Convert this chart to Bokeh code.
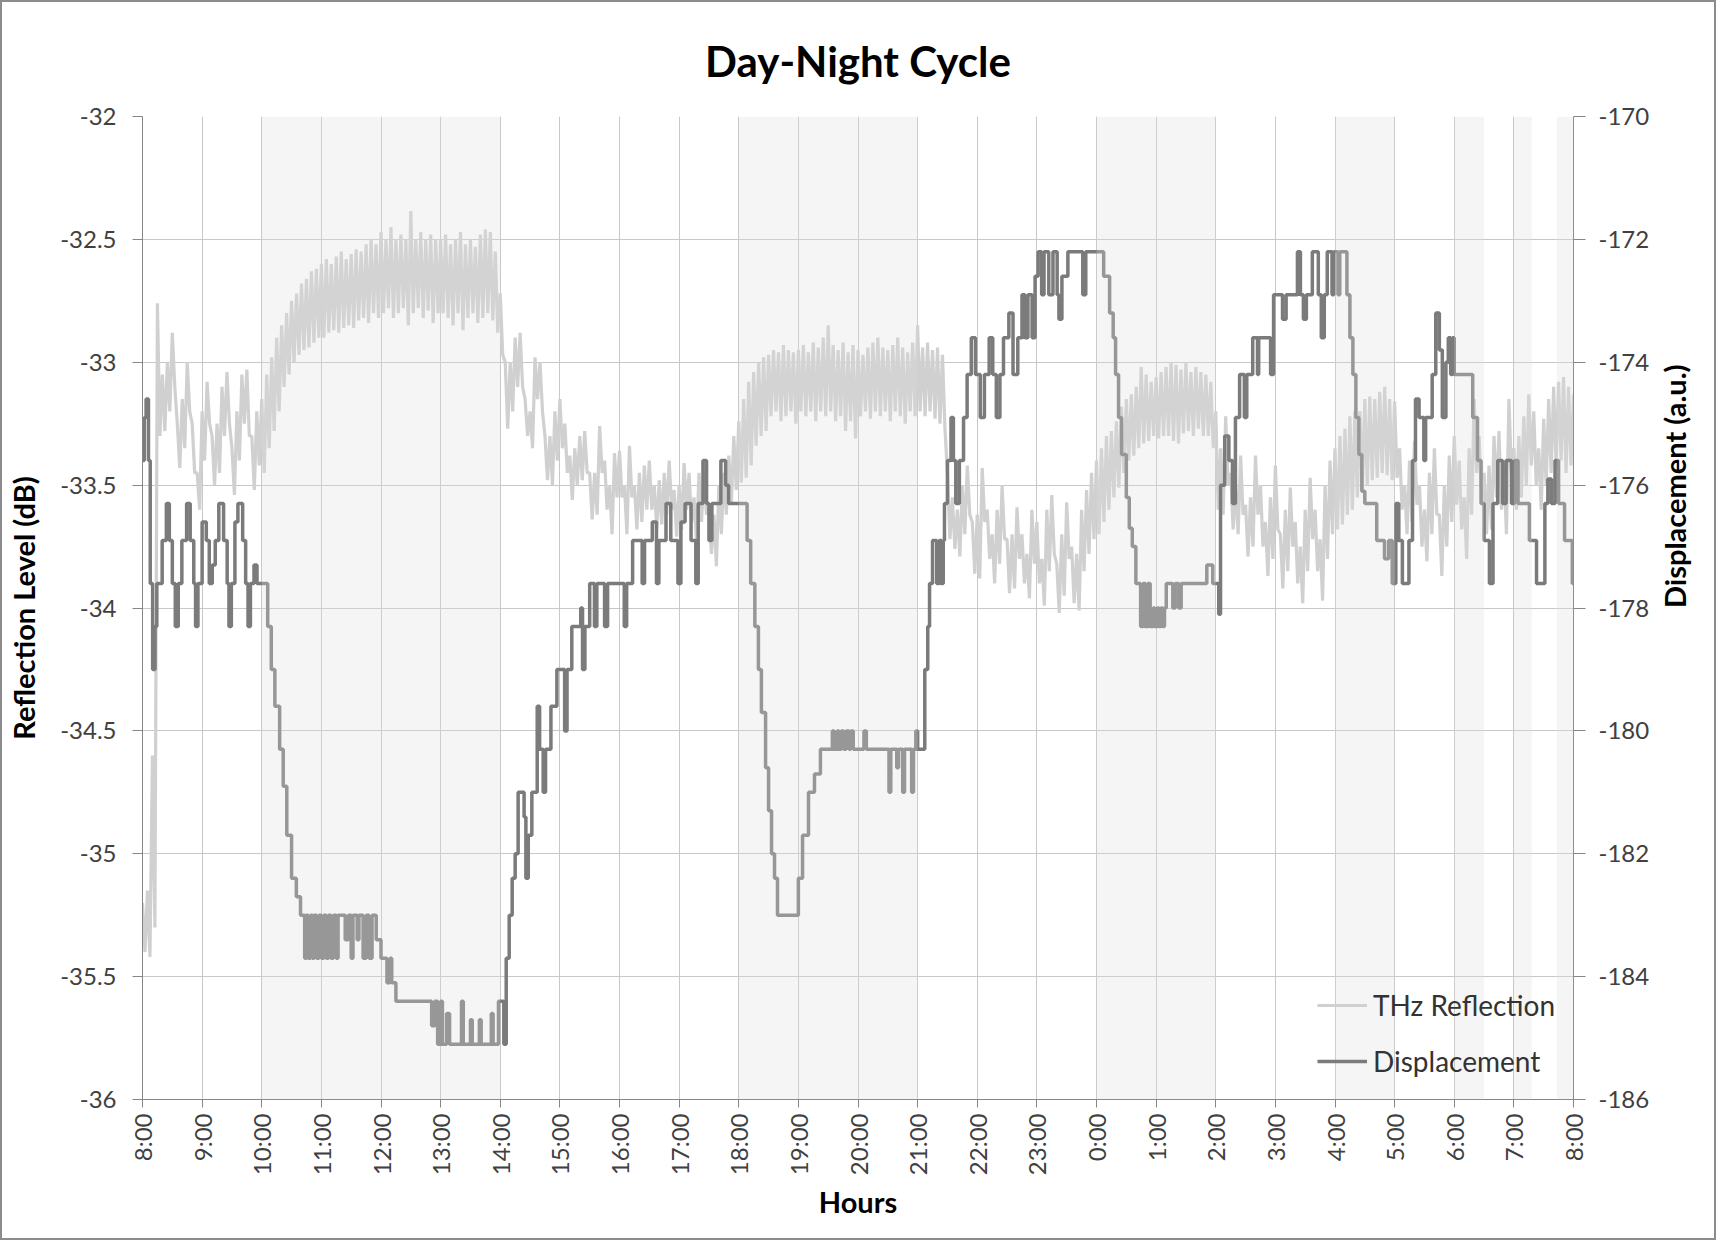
import math
from bokeh.plotting import figure
from bokeh.models import Range1d, LinearAxis, FixedTicker, BoxAnnotation, Legend, LegendItem
from bokeh.embed import file_html
from bokeh.resources import INLINE

TITLE = "Day-Night Cycle"
X_LABEL = "Hours"
Y_LABEL = "Reflection Level (dB)"
Y2_LABEL = "Displacement (a.u.)"
SERIES_NAMES = ["THz Reflection", "Displacement"]

HOUR_TICKS = [8, 9, 10, 11, 12, 13, 14, 15, 16, 17, 18, 19, 20, 21, 22, 23, 24,
              25, 26, 27, 28, 29, 30, 31, 32]
HOUR_LABELS = ["8:00", "9:00", "10:00", "11:00", "12:00", "13:00", "14:00", "15:00",
               "16:00", "17:00", "18:00", "19:00", "20:00", "21:00", "22:00", "23:00",
               "0:00", "1:00", "2:00", "3:00", "4:00", "5:00", "6:00", "7:00", "8:00"]
REFL_TICKS = [-36, -35.5, -35, -34.5, -34, -33.5, -33, -32.5, -32]
REFL_TICK_LABELS = ["-36", "-35.5", "-35", "-34.5", "-34", "-33.5", "-33", "-32.5", "-32"]
DISP_TICKS = [-186, -184, -182, -180, -178, -176, -174, -172, -170]
DISP_TICK_LABELS = ["-186", "-184", "-182", "-180", "-178", "-176", "-174", "-172", "-170"]

# shaded periods (clock hours, 24 = midnight)
BAND_START = [10, 18, 24, 28, 30, 31.0, 31.72]
BAND_END = [14, 21, 26, 29, 30.5, 31.3, 32]

# THz reflection: upper / lower edge of the trace every 5 minutes from 8:00
REFL_START_HOUR = 8.0
REFL_STEP_MIN = 5
REFL_HI = [
    -35.2, -35.15, -34.6, -32.76, -33.05, -33.0, -32.88, -33.25, -33.15, -33.0, -33.25, -33.45,
    -33.2, -33.08, -33.3, -33.25, -33.1, -33.04, -33.35, -33.2, -33.05, -33.03, -33.3, -33.2,
    -33.15, -33.05, -32.98, -32.9, -32.85, -32.8, -32.75, -32.72, -32.68, -32.66, -32.63, -32.62,
    -32.6, -32.58, -32.6, -32.57, -32.55, -32.58, -32.56, -32.54, -32.55, -32.52, -32.5, -32.52,
    -32.47, -32.5, -32.45, -32.5, -32.48, -32.5, -32.385, -32.5, -32.47, -32.5, -32.48, -32.5,
    -32.5, -32.48, -32.52, -32.5, -32.47, -32.52, -32.5, -32.53, -32.48, -32.46, -32.47, -32.55,
    -32.72, -33.0, -33.0, -32.9, -32.88, -33.15, -33.2, -32.98, -33.0, -33.3, -33.3, -33.2,
    -33.15, -33.25, -33.38, -33.35, -33.3, -33.28, -33.45, -33.45, -33.26, -33.4, -33.5, -33.37,
    -33.36, -33.5, -33.34, -33.5, -33.45, -33.42, -33.4, -33.5, -33.48, -33.45, -33.4, -33.52,
    -33.5, -33.41, -33.45, -33.55, -33.45, -33.45, -33.6, -33.62, -33.5, -33.45, -33.38, -33.3,
    -33.24, -33.15, -33.08, -33.04, -33.0, -32.98, -32.97, -32.95, -32.96, -32.93, -32.95, -32.96,
    -32.95, -32.93, -32.96, -32.92, -32.94, -32.9, -32.85, -32.93, -32.95, -32.92, -32.96, -32.93,
    -32.95, -32.97, -32.94, -32.92, -32.9, -32.94, -32.95, -32.93, -32.9, -32.94, -32.96, -32.92,
    -32.85, -32.94, -32.92, -32.95, -32.94, -32.97, -33.45, -33.55, -33.6, -33.5, -33.42, -33.65,
    -33.62, -33.43, -33.6, -33.7, -33.6, -33.5, -33.72, -33.7, -33.59, -33.7, -33.78, -33.6,
    -33.65, -33.8, -33.6, -33.54, -33.82, -33.7, -33.57, -33.75, -33.78, -33.6, -33.52, -33.45,
    -33.4, -33.35, -33.3, -33.28, -33.24, -33.18, -33.15, -33.13, -33.1, -33.02, -33.05, -33.08,
    -33.06, -33.04, -33.02, -33.0, -33.01, -33.03, -33.0, -33.04, -33.02, -33.04, -33.05, -33.08,
    -33.2, -33.35, -33.22, -33.45, -33.5, -33.38, -33.58, -33.55, -33.38, -33.5, -33.65, -33.55,
    -33.42, -33.7, -33.6, -33.51, -33.65, -33.75, -33.6, -33.47, -33.6, -33.72, -33.5, -33.4,
    -33.35, -33.3, -33.27, -33.22, -33.2, -33.2, -33.15, -33.14, -33.15, -33.12, -33.1, -33.15,
    -33.16, -33.35, -33.5, -33.4, -33.32, -33.5, -33.6, -33.45, -33.35, -33.62, -33.5, -33.38,
    -33.3, -33.4, -33.55, -33.35, -33.15, -33.3, -33.45, -33.42, -33.3, -33.28, -33.42, -33.15,
    -33.35, -33.3, -33.22, -33.13, -33.2, -33.35, -33.23, -33.15, -33.1, -33.08, -33.06, -33.1,
    -33.13,
]
REFL_LO = [
    -35.4, -35.42, -35.3, -33.3, -33.28, -33.2, -33.1, -33.43, -33.35, -33.2, -33.45, -33.6,
    -33.4, -33.25, -33.5, -33.45, -33.3, -33.25, -33.54, -33.4, -33.25, -33.3, -33.52, -33.42,
    -33.45, -33.35, -33.28, -33.2, -33.1, -33.05, -33.0, -32.97, -32.95, -32.94, -32.92, -32.9,
    -32.9, -32.88, -32.87, -32.88, -32.86, -32.85, -32.86, -32.83, -32.82, -32.84, -32.8, -32.82,
    -32.8, -32.78, -32.82, -32.8, -32.78, -32.85, -32.8, -32.78, -32.82, -32.79, -32.84, -32.8,
    -32.8, -32.82, -32.85, -32.8, -32.87, -32.82, -32.8, -32.84, -32.82, -32.8, -32.83, -32.88,
    -32.97, -33.27, -33.2, -33.1, -33.1, -33.3, -33.35, -33.15, -33.2, -33.48, -33.5, -33.4,
    -33.35, -33.45, -33.56, -33.5, -33.48, -33.45, -33.64, -33.62, -33.45, -33.6, -33.7, -33.55,
    -33.55, -33.7, -33.55, -33.68, -33.65, -33.6, -33.6, -33.68, -33.66, -33.62, -33.6, -33.71,
    -33.68, -33.6, -33.65, -33.73, -33.65, -33.62, -33.78, -33.83, -33.7, -33.62, -33.58, -33.52,
    -33.49, -33.47, -33.42, -33.34, -33.3, -33.28, -33.22, -33.2, -33.24, -33.22, -33.2, -33.25,
    -33.2, -33.22, -33.2, -33.24, -33.2, -33.22, -33.2, -33.24, -33.22, -33.28, -33.24, -33.31,
    -33.22, -33.2, -33.23, -33.2, -33.22, -33.2, -33.24, -33.2, -33.22, -33.25, -33.2, -33.22,
    -33.2, -33.22, -33.2, -33.23, -33.25, -33.27, -33.72, -33.76, -33.79, -33.7, -33.62, -33.86,
    -33.88, -33.65, -33.8, -33.9, -33.82, -33.72, -33.94, -33.92, -33.8, -33.9, -33.96, -33.82,
    -33.9, -33.99, -33.85, -33.78, -34.02, -33.95, -33.8, -33.98, -34.01, -33.85, -33.78, -33.72,
    -33.7, -33.65, -33.6, -33.55, -33.51, -33.45, -33.4, -33.38, -33.35, -33.33, -33.32, -33.3,
    -33.31, -33.3, -33.3, -33.32, -33.33, -33.29, -33.28, -33.3, -33.27, -33.3, -33.3, -33.35,
    -33.6, -33.62, -33.5, -33.68, -33.7, -33.62, -33.79, -33.75, -33.62, -33.75, -33.87, -33.8,
    -33.68, -33.92, -33.85, -33.75, -33.9, -33.98, -33.85, -33.72, -33.85, -33.97, -33.8, -33.7,
    -33.68, -33.66, -33.62, -33.6, -33.55, -33.52, -33.5, -33.48, -33.47, -33.45, -33.46, -33.48,
    -33.47, -33.6, -33.7, -33.65, -33.58, -33.75, -33.81, -33.7, -33.62, -33.87, -33.75, -33.65,
    -33.58, -33.68, -33.8, -33.62, -33.45, -33.58, -33.7, -33.68, -33.55, -33.6, -33.7, -33.45,
    -33.6, -33.55, -33.5, -33.42, -33.5, -33.6, -33.5, -33.45, -33.42, -33.4, -33.45, -33.42,
    -33.48,
]

# Displacement: step change points (clock hours) and levels (a.u.)
DISP_H = [
    8.00, 8.03, 8.06, 8.10, 8.13, 8.17, 8.21, 8.24, 8.33, 8.40, 8.45, 8.50, 8.55, 8.60, 8.66,
    8.74, 8.80, 8.86, 8.89, 8.93, 9.00, 9.07, 9.12, 9.17, 9.22, 9.28, 9.36, 9.42, 9.45, 9.49,
    9.55, 9.60, 9.68, 9.73, 9.77, 9.81, 9.87, 9.92, 10.10, 10.16, 10.22, 10.30, 10.36, 10.42,
    10.50, 10.58, 10.65, 10.72, 10.75, 10.78, 10.82, 10.85, 10.88, 10.92, 10.96, 11.00, 11.04,
    11.08, 11.12, 11.16, 11.20, 11.25, 11.28, 11.40, 11.45, 11.50, 11.53, 11.60, 11.63, 11.70,
    11.75, 11.80, 11.85, 11.92, 12.00, 12.10, 12.15, 12.18, 12.25, 12.85, 12.90, 12.95, 13.00,
    13.03, 13.10, 13.15, 13.35, 13.38, 13.50, 13.53, 13.65, 13.68, 13.85, 13.88, 13.97, 14.06,
    14.10, 14.15, 14.20, 14.25, 14.30, 14.40, 14.43, 14.47, 14.53, 14.62, 14.66, 14.72, 14.76,
    14.85, 14.95, 15.08, 15.12, 15.20, 15.35, 15.38, 15.42, 15.50, 15.58, 15.62, 15.75, 15.80,
    16.08, 16.12, 16.22, 16.38, 16.42, 16.55, 16.62, 16.66, 16.78, 16.86, 16.98, 17.03, 17.10,
    17.20, 17.28, 17.32, 17.40, 17.46, 17.50, 17.55, 17.70, 17.78, 17.83, 18.14, 18.20, 18.27,
    18.33, 18.38, 18.45, 18.50, 18.55, 18.60, 18.65, 19.00, 19.07, 19.17, 19.27, 19.37, 19.57,
    19.60, 19.65, 19.68, 19.72, 19.76, 19.80, 19.85, 19.88, 19.92, 20.10, 20.14, 20.52, 20.55,
    20.65, 20.68, 20.75, 20.78, 20.90, 20.93, 20.97, 21.00, 21.12, 21.17, 21.20, 21.25, 21.32,
    21.36, 21.40, 21.43, 21.45, 21.50, 21.56, 21.60, 21.64, 21.70, 21.77, 21.83, 21.90, 21.97,
    22.05, 22.12, 22.20, 22.26, 22.32, 22.38, 22.44, 22.53, 22.60, 22.68, 22.75, 22.80, 22.85,
    22.92, 22.97, 23.02, 23.08, 23.12, 23.20, 23.27, 23.34, 23.37, 23.42, 23.52, 23.77, 23.82,
    24.12, 24.22, 24.28, 24.32, 24.37, 24.42, 24.50, 24.55, 24.60, 24.66, 24.74, 24.78, 24.82,
    24.86, 24.90, 24.95, 24.98, 25.02, 25.05, 25.08, 25.11, 25.14, 25.17, 25.28, 25.32, 25.38,
    25.42, 25.85, 25.95, 26.05, 26.08, 26.15, 26.22, 26.28, 26.33, 26.40, 26.48, 26.52, 26.62,
    26.70, 26.72, 26.92, 26.97, 27.12, 27.18, 27.37, 27.42, 27.47, 27.52, 27.62, 27.72, 27.77,
    27.82, 27.87, 27.95, 27.98, 28.05, 28.08, 28.20, 28.25, 28.30, 28.35, 28.40, 28.45, 28.50,
    28.70, 28.83, 28.90, 28.96, 29.02, 29.07, 29.13, 29.24, 29.30, 29.35, 29.41, 29.49, 29.52,
    29.63, 29.69, 29.75, 29.80, 29.86, 29.90, 29.94, 29.97, 30.00, 30.31, 30.39, 30.45, 30.50,
    30.59, 30.65, 30.73, 30.81, 30.87, 30.96, 31.01, 31.07, 31.26, 31.38, 31.52, 31.57, 31.63,
    31.69, 31.75, 31.85, 31.98, 32.00,
]
DISP_V = [
    -175.6, -174.9, -174.6, -175.6, -177.6, -179.0, -178.3, -177.6, -176.9, -176.3, -176.9,
    -177.6, -178.3, -177.6, -176.9, -176.3, -176.9, -177.6, -178.3, -177.6, -176.6, -176.9,
    -177.6, -177.3, -176.9, -176.3, -176.9, -177.6, -178.3, -177.6, -176.6, -176.3, -176.9,
    -177.6, -178.3, -177.6, -177.3, -177.6, -178.3, -179.0, -179.6, -180.3, -180.9, -181.7,
    -182.4, -182.7, -183.0, -183.7, -183.0, -183.7, -183.0, -183.7, -183.0, -183.7, -183.0,
    -183.7, -183.0, -183.7, -183.0, -183.7, -183.0, -183.7, -183.0, -183.4, -183.0, -183.7,
    -183.0, -183.4, -183.0, -183.7, -183.0, -183.7, -183.0, -183.4, -183.7, -184.1, -183.7,
    -184.1, -184.4, -184.8, -184.4, -185.1, -184.4, -185.1, -184.6, -185.1, -184.4, -185.1,
    -184.7, -185.1, -184.7, -185.1, -184.6, -185.1, -184.4, -185.1, -183.7, -183.0, -182.4,
    -182.0, -181.0, -181.4, -182.4, -181.7, -181.0, -179.6, -180.3, -181.0, -180.3, -179.6,
    -179.0, -180.0, -179.0, -178.3, -178.0, -179.0, -178.3, -177.6, -178.3, -177.6, -178.3,
    -177.6, -178.3, -177.6, -176.9, -177.6, -176.9, -176.6, -177.6, -176.9, -176.3, -176.9,
    -177.6, -176.6, -176.3, -176.9, -177.6, -176.3, -175.6, -176.3, -176.9, -176.3, -175.6,
    -176.0, -176.3, -176.9, -177.6, -178.3, -179.0, -179.7, -180.6, -181.3, -182.0, -182.4,
    -183.0, -182.4, -181.7, -181.0, -180.7, -180.3, -180.0, -180.3, -180.0, -180.3, -180.0,
    -180.3, -180.0, -180.3, -180.0, -180.3, -180.0, -180.3, -181.0, -180.3, -180.6, -180.3,
    -181.0, -180.3, -181.0, -180.3, -180.0, -180.3, -179.0, -178.3, -177.6, -176.9, -177.6,
    -176.9, -177.6, -176.9, -176.3, -175.6, -174.9, -175.6, -176.3, -175.6, -174.9, -174.2,
    -173.6, -174.2, -174.9, -174.2, -173.6, -174.2, -174.9, -174.2, -173.6, -173.2, -174.2,
    -173.6, -172.9, -173.6, -172.9, -173.6, -172.6, -172.2, -172.9, -172.2, -172.9, -172.2,
    -172.9, -173.3, -172.6, -172.2, -172.9, -172.2, -172.6, -173.2, -173.6, -174.2, -174.9,
    -175.5, -176.2, -176.7, -177.0, -177.6, -178.3, -177.6, -178.3, -177.6, -178.3, -178.0,
    -178.3, -178.0, -178.3, -178.0, -178.3, -178.0, -177.6, -178.0, -177.6, -178.0, -177.6,
    -177.3, -177.6, -178.1, -176.0, -175.2, -175.6, -176.3, -174.9, -174.2, -174.9, -174.2,
    -173.6, -174.2, -173.6, -174.2, -172.9, -173.3, -172.9, -172.2, -172.9, -173.3, -172.9,
    -172.2, -172.9, -173.6, -172.9, -172.2, -172.9, -172.2, -172.9, -172.2, -172.9, -173.6,
    -174.2, -174.9, -175.5, -176.1, -176.3, -176.9, -177.2, -176.9, -177.6, -176.3, -176.9,
    -177.6, -176.9, -175.6, -174.6, -174.9, -175.6, -174.9, -174.2, -173.2, -173.8, -174.9,
    -174.0, -173.6, -174.2, -173.6, -174.2, -174.9, -175.6, -176.3, -176.9, -177.6, -176.3,
    -175.6, -176.3, -175.6, -176.3, -175.6, -176.3, -176.9, -177.6, -176.3, -175.9, -176.3,
    -175.6, -176.3, -176.9, -177.6, -177.6,
]

REFL_COLOR = "#d0d0d0"
DISP_COLOR = "#7b7b7b"
FONT = "Lato"

# zig-zag through upper and lower edge of the reflection trace
refl_x, refl_y = [], []
step_h = REFL_STEP_MIN / 60.0
for k, (hi, lo) in enumerate(zip(REFL_HI, REFL_LO)):
    t = REFL_START_HOUR + k * step_h
    refl_x.extend([t, t + step_h / 2.0])
    refl_y.extend([hi, lo])
refl_x = refl_x[:-1]
refl_y = refl_y[:-1]

p = figure(width=1716, height=1240, x_range=Range1d(8, 32), y_range=Range1d(-36, -32),
           output_backend="svg", toolbar_location=None, title=TITLE,
           min_border_left=140, min_border_right=145, min_border_top=114, min_border_bottom=143)
p.extra_y_ranges = {"disp": Range1d(-186, -170)}
p.styles = {"border": "2px solid #8c8c8c"}
p.outline_line_color = None
p.background_fill_color = "white"
p.border_fill_color = "white"

p.title.text_font = FONT
p.title.text_font_size = "42px"
p.title.text_font_style = "bold"
p.title.text_color = "black"
p.title.align = "center"
p.title.standoff = 62

r_refl = p.line(refl_x, refl_y, line_color=REFL_COLOR, line_width=3.2)
r_disp = p.step(DISP_H, DISP_V, mode="after", y_range_name="disp",
                line_color=DISP_COLOR, line_width=3.5)

for a, b in zip(BAND_START, BAND_END):
    p.add_layout(BoxAnnotation(left=a, right=b, fill_color="#dcdcdc", fill_alpha=0.29,
                               line_alpha=0))

# axes
xax = p.xaxis[0]
xax.ticker = FixedTicker(ticks=HOUR_TICKS)
xax.major_label_overrides = {t: s for t, s in zip(HOUR_TICKS, HOUR_LABELS)}
xax.major_label_orientation = math.pi / 2
xax.axis_label = X_LABEL
xax.major_tick_out = 8
xax.major_label_standoff = 6
xax.axis_label_standoff = 6

yax = p.yaxis[0]
yax.ticker = FixedTicker(ticks=REFL_TICKS)
yax.major_label_overrides = {t: s for t, s in zip(REFL_TICKS, REFL_TICK_LABELS)}
yax.axis_label = Y_LABEL
yax.major_tick_out = 10
yax.major_label_standoff = 16
yax.axis_label_standoff = 16

rax = LinearAxis(y_range_name="disp", ticker=FixedTicker(ticks=DISP_TICKS),
                 axis_label=Y2_LABEL)
rax.major_label_overrides = {t: s for t, s in zip(DISP_TICKS, DISP_TICK_LABELS)}
rax.major_tick_out = 12
rax.major_label_standoff = 13
rax.axis_label_standoff = 22
p.add_layout(rax, "right")
if "axis_label_orientation" in rax.properties():
    rax.axis_label_orientation = math.pi / 2

for ax in (xax, yax, rax):
    ax.axis_line_color = "#868686"
    ax.axis_line_width = 1
    ax.major_tick_line_color = "#868686"
    ax.minor_tick_line_color = None
    ax.major_tick_in = 0
    ax.major_label_text_font = FONT
    ax.major_label_text_font_size = "24px"
    ax.major_label_text_color = "#404040"
    ax.axis_label_text_font = FONT
    ax.axis_label_text_font_size = "29px"
    ax.axis_label_text_font_style = "bold"
    ax.axis_label_text_color = "black"

p.xgrid.ticker = FixedTicker(ticks=HOUR_TICKS)
p.ygrid.ticker = FixedTicker(ticks=REFL_TICKS)
for g in (p.xgrid[0], p.ygrid[0]):
    g.grid_line_color = "#c8c8c8"
    g.grid_line_width = 1

legend = Legend(items=[LegendItem(label=SERIES_NAMES[0], renderers=[r_refl]),
                       LegendItem(label=SERIES_NAMES[1], renderers=[r_disp])],
                location=(1175, 21))
legend.background_fill_alpha = 0
legend.border_line_alpha = 0
legend.label_text_font = FONT
legend.label_text_font_size = "28px"
legend.label_text_color = "#333333"
legend.glyph_width = 50
legend.glyph_height = 30
legend.label_height = 30
legend.spacing = 22
legend.padding = 0
legend.margin = 0
legend.label_standoff = 6
p.add_layout(legend)

open("out.html", "w").write(file_html(p, INLINE))
